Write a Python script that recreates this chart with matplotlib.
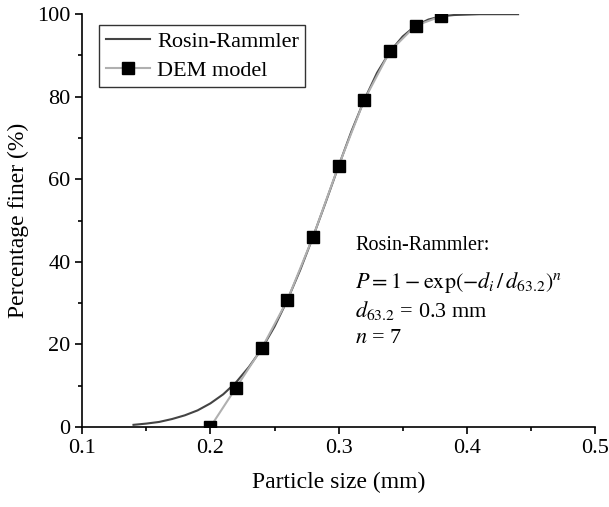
import matplotlib
matplotlib.use("Agg")
import matplotlib.pyplot as plt
from matplotlib.ticker import MultipleLocator

plt.rcParams["font.family"] = ["Liberation Serif", "DejaVu Serif"]
plt.rcParams["mathtext.fontset"] = "stix"

# Rosin-Rammler curve
rr_size = [0.14, 0.15, 0.16, 0.17, 0.18, 0.19, 0.20, 0.21, 0.22, 0.23, 0.24, 0.25,
           0.26, 0.27, 0.28, 0.29, 0.30, 0.31, 0.32, 0.33, 0.34, 0.35, 0.36, 0.37,
           0.38, 0.39, 0.40, 0.41, 0.42, 0.43, 0.44]
rr_finer = [0.5, 0.8, 1.2, 1.9, 2.8, 4.0, 5.7, 7.9, 10.8, 14.5, 18.9, 24.3,
            30.7, 38.0, 46.0, 54.5, 63.2, 71.6, 79.2, 85.8, 90.9, 94.6, 97.2, 98.7,
            99.5, 99.8, 99.9, 100.0, 100.0, 100.0, 100.0]

# DEM model points
dem_size = [0.20, 0.22, 0.24, 0.26, 0.28, 0.30, 0.32, 0.34, 0.36, 0.38]
dem_finer = [0.0, 9.5, 19.0, 30.7, 46.0, 63.3, 79.2, 91.0, 97.2, 99.5]


def main():
    fig = plt.figure(figsize=(6.09, 5.07), dpi=100)
    ax = fig.add_axes([0.135, 0.158, 0.842, 0.814])

    ax.plot(rr_size, rr_finer, color="#444444", lw=1.5, label="Rosin-Rammler")
    ax.plot(dem_size, dem_finer, color="#b0b0b0", lw=1.5, marker="s",
            markersize=8.5, markerfacecolor="black", markeredgecolor="black",
            label="DEM model")

    ax.set_xlim(0.1, 0.5)
    ax.set_ylim(0, 100)
    ax.xaxis.set_major_locator(MultipleLocator(0.1))
    ax.xaxis.set_minor_locator(MultipleLocator(0.05))
    ax.yaxis.set_major_locator(MultipleLocator(20))
    ax.yaxis.set_minor_locator(MultipleLocator(10))
    ax.spines["top"].set_visible(False)
    ax.spines["right"].set_visible(False)
    ax.spines["left"].set_linewidth(1.2)
    ax.spines["bottom"].set_linewidth(1.2)
    ax.tick_params(which="both", direction="out", width=1.2, labelsize=16)
    ax.tick_params(which="major", length=5)
    ax.tick_params(which="minor", length=3)

    ax.set_xlabel("Particle size (mm)", fontsize=17, labelpad=10)
    ax.set_ylabel("Percentage finer (%)", fontsize=17, labelpad=6)

    leg = ax.legend(loc="upper left", bbox_to_anchor=(0.02, 0.99), fontsize=16,
                    frameon=True, fancybox=False, edgecolor="black",
                    handlelength=2.0, borderpad=0.3, labelspacing=0.35,
                    handletextpad=0.3, borderaxespad=0.3)
    leg.get_frame().set_linewidth(1.0)

    # annotation lines (x, baseline y in data units)
    ax.text(0.313, 42.9, "Rosin-Rammler:", fontsize=14.5, va="baseline")
    ax.text(0.313, 33.7, r"$P = 1 - \mathrm{exp}\left(-d_i\,/\,d_{63.2}\right)^n$",
            fontsize=16, va="baseline")
    ax.text(0.313, 26.6, r"$d_{63.2}$ = 0.3 mm", fontsize=16, va="baseline")
    ax.text(0.313, 20.3, r"$n$ = 7", fontsize=16, va="baseline")

    fig.savefig("out.png", dpi=100)


if __name__ == "__main__":
    main()
